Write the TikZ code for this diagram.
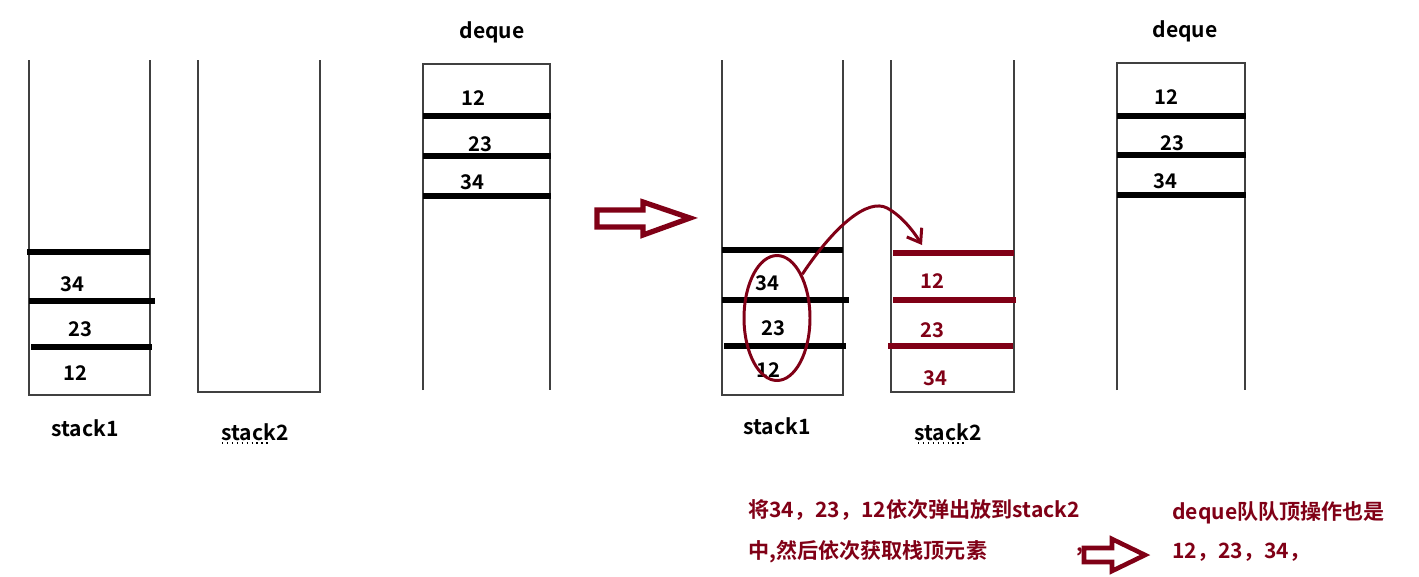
\documentclass[tikz,border=0pt]{standalone}
\usepackage{fontspec}
\setmainfont{Noto Sans CJK SC}[BoldFont={Noto Sans CJK SC Bold}]
\usetikzlibrary{shapes.geometric,arrows.meta}
\definecolor{penred}{RGB}{128,0,22}

\begin{document}
\begin{tikzpicture}[x=0.02cm, y=-0.02cm,
wall/.style={draw=black!75, line width=1.1pt},
bar/.style={line width=3.2pt},
num/.style={font=\fontsize{11.5}{14}\selectfont\bfseries, inner sep=0pt},
title/.style={font=\fontsize{12}{14}\selectfont\bfseries, inner sep=0pt},
note/.style={font=\fontsize{12}{14}\selectfont\bfseries, text=penred, anchor=west, inner sep=0pt},
fat/.style={draw=penred, line width=3pt, line join=miter}
]
\useasboundingbox (0,0) rectangle (1419,576);

% before
\draw[wall] (29,60) -- (29,395) -- (150,395) -- (150,60);
\draw[bar] (27,252) -- (150,252);
\draw[bar] (29,301) -- (155,301);
\draw[bar] (31,347) -- (152,347);
\node (la34) at (72,284) [num] {34};
\node (la23) at (80,329) [num] {23};
\node (la12) at (75,373) [num] {12};
\node (lcap1) at (85,428) [title] {stack1};

\draw[wall] (198,60) -- (198,392) -- (320,392) -- (320,60);
\node (lcap2) at (255,432) [title] {stack2};
\draw[dotted, thick] (222,443) -- (270,443);

\draw[wall] (423,390) -- (423,64) -- (550,64) -- (550,390);
\draw[bar] (423,116) -- (551,116);
\draw[bar] (423,156) -- (551,156);
\draw[bar] (423,196) -- (551,196);
\node (ld12) at (473,98) [num] {12};
\node (ld23) at (480,144) [num] {23};
\node (ld34) at (472,182) [num] {34};
\node (ldq) at (492,32) [title] {deque};

\draw[fat] (597,210) -- (643,210) -- (643,202) -- (690,218) -- (643,235) -- (643,227) -- (597,227) -- cycle;

% after
\draw[wall] (722,60) -- (722,395) -- (843,395) -- (843,60);
\draw[bar] (722,250) -- (843,250);
\draw[bar] (722,300) -- (849,300);
\draw[bar] (724,346) -- (846,346);
\node (ra34) at (767,283) [num] {34};
\node (ra23) at (773,328) [num] {23};
\node (ra12) at (768,370) [num] {12};
\node (rcap1) at (777,426) [title] {stack1};

\draw[wall] (891,60) -- (891,392) -- (1014,392) -- (1014,60);
\draw[bar, penred] (893,253) -- (1014,253);
\draw[bar, penred] (893,300) -- (1016,300);
\draw[bar, penred] (888,346) -- (1013,346);
\node (rb12) at (932,281) [num, text=penred] {12};
\node (rb23) at (932,330) [num, text=penred] {23};
\node (rb34) at (935,378) [num, text=penred] {34};
\node (rcap2) at (948,432) [title] {stack2};
\draw[dotted, thick] (918,443) -- (966,443);

\draw[wall] (1117,390) -- (1117,63) -- (1245,63) -- (1245,390);
\draw[bar] (1117,116) -- (1246,116);
\draw[bar] (1117,155) -- (1246,155);
\draw[bar] (1117,195) -- (1246,195);
\node (rd12) at (1166,97) [num] {12};
\node (rd23) at (1172,143) [num] {23};
\node (rd34) at (1165,181) [num] {34};
\node (rdq) at (1185,31) [title] {deque};

% pop them over
\node (pick) at (777,318) [ellipse, draw=penred, line width=1.7pt, minimum width=1.32cm, minimum height=2.5cm] {};
\coordinate (drop) at (922,245);
\draw[penred, line width=1.7pt, -{Straight Barb[length=7pt,width=10pt]}] (pick.60) .. controls (835,225) and (868,198) .. (887,208) .. controls (902,216) and (914,232) .. (drop);

% notes
\node (n1) at (748,510) [note] {将34，23，12依次弹出放到stack2};
\node (n2) at (748,552) [note] {中,然后依次获取栈顶元素};
\node (dot) at (1076,552) [note] {,};
\draw[fat, line width=2.6pt] (1084,548) -- (1112,548) -- (1112,539) -- (1145,555) -- (1112,571) -- (1112,562) -- (1084,562) -- cycle;
\node (n3) at (1172,513) [note] {deque队队顶操作也是};
\node (n4) at (1172,552) [note] {12，23，34，};

\end{tikzpicture}
\end{document}
